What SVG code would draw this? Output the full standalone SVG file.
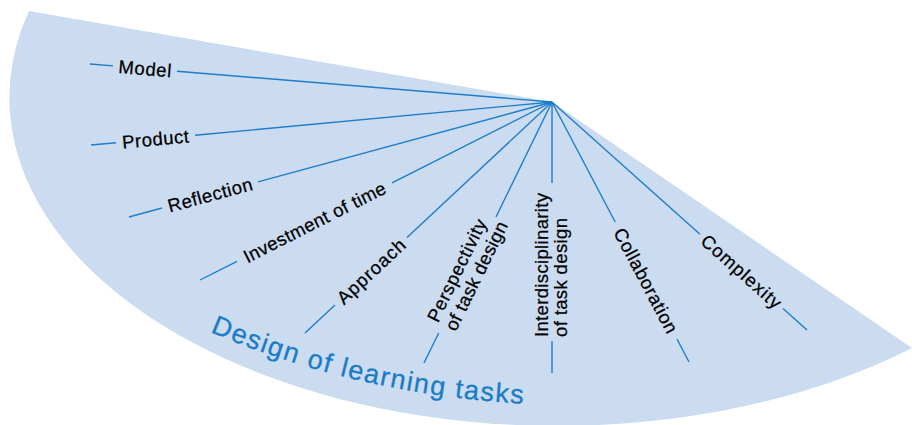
<svg xmlns="http://www.w3.org/2000/svg" width="912" height="425" viewBox="0 0 912 425">
<style>
.lbl{font-family:"Liberation Sans",Arial,Helvetica,sans-serif;font-size:18.5px;fill:#000;stroke:#000;stroke-width:0.25}
.ttl{font-family:"Liberation Sans",Arial,Helvetica,sans-serif;font-size:27px;fill:#1a7cc6;stroke:#1a7cc6;stroke-width:0.3;letter-spacing:1.5px}
.sp line{stroke:#1e7cca;stroke-width:1.4;fill:none}
</style>
<defs>
<path id="tp" d="M210,332 Q359,395 528,404" fill="none"/>
</defs>
<rect width="912" height="425" fill="#fff"/>
<path id="fan" d="M552,102 L29,11 A548,328 0 0 0 912,348 Z" fill="#cbdcf1"/>
<g id="connectors" class="sp">
<line x1="552" y1="102" x2="177" y2="71.2"/>
<line x1="90" y1="64" x2="113" y2="65.9"/>
<line x1="552" y1="102" x2="195" y2="135.3"/>
<line x1="91" y1="145" x2="116" y2="142.7"/>
<line x1="552" y1="102" x2="258" y2="181.9"/>
<line x1="129" y1="217" x2="162" y2="208"/>
<line x1="552" y1="102" x2="392" y2="182.9"/>
<line x1="200" y1="280" x2="237" y2="261.3"/>
<line x1="552" y1="102" x2="407" y2="237.6"/>
<line x1="305" y1="333" x2="335" y2="305"/>
<line x1="552" y1="102" x2="496" y2="217"/>
<line x1="424" y1="363" x2="438.7" y2="333"/>
<line x1="552" y1="102" x2="552" y2="183"/>
<line x1="552" y1="341" x2="552" y2="373"/>
<line x1="552" y1="102" x2="615.2" y2="222"/>
<line x1="677" y1="339" x2="689" y2="362"/>
<line x1="552" y1="102" x2="700" y2="234.3"/>
<line x1="783" y1="308.5" x2="807" y2="330"/>
</g>
<g id="title">
<text class="ttl"><textPath href="#tp">Design of learning tasks</textPath></text>
</g>
<g id="model">
<text class="lbl" x="145" y="68.6" dy="6.6" text-anchor="middle" textLength="53" transform="rotate(4.7 145 68.6)">Model</text>
</g>
<g id="product">
<text class="lbl" x="155.5" y="139" dy="6.6" text-anchor="middle" textLength="67" transform="rotate(-5.33 155.5 139)">Product</text>
</g>
<g id="reflection">
<text class="lbl" x="210" y="194.8" dy="6.6" text-anchor="middle" textLength="87" transform="rotate(-15.21 210 194.8)">Reflection</text>
</g>
<g id="investment">
<text class="lbl" x="314.5" y="222.1" dy="6.6" text-anchor="middle" textLength="157" transform="rotate(-26.82 314.5 222.1)">Investment of time</text>
</g>
<g id="approach">
<text class="lbl" x="371" y="271.3" dy="6.6" text-anchor="middle" textLength="86" transform="rotate(-43.08 371 271.3)">Approach</text>
</g>
<g id="perspectivity" transform="rotate(-63.88 442.4 325.6)">
<text class="lbl" x="442.4" y="320.6" textLength="112">Perspectivity</text>
<text class="lbl" x="442.4" y="340.6" textLength="119">of task design</text>
</g>
<g id="interdisciplinarity" transform="rotate(-90 552 337)">
<text class="lbl" x="552" y="333.3" textLength="144">Interdisciplinarity</text>
<text class="lbl" x="552" y="352.3" textLength="119">of task design</text>
</g>
<g id="collaboration">
<text class="lbl" x="646" y="280.6" dy="6.6" text-anchor="middle" textLength="116" transform="rotate(62.2 646 280.6)">Collaboration</text>
</g>
<g id="complexity">
<text class="lbl" x="741.5" y="271.4" dy="6.6" text-anchor="middle" textLength="101" transform="rotate(41.8 741.5 271.4)">Complexity</text>
</g>
</svg>
